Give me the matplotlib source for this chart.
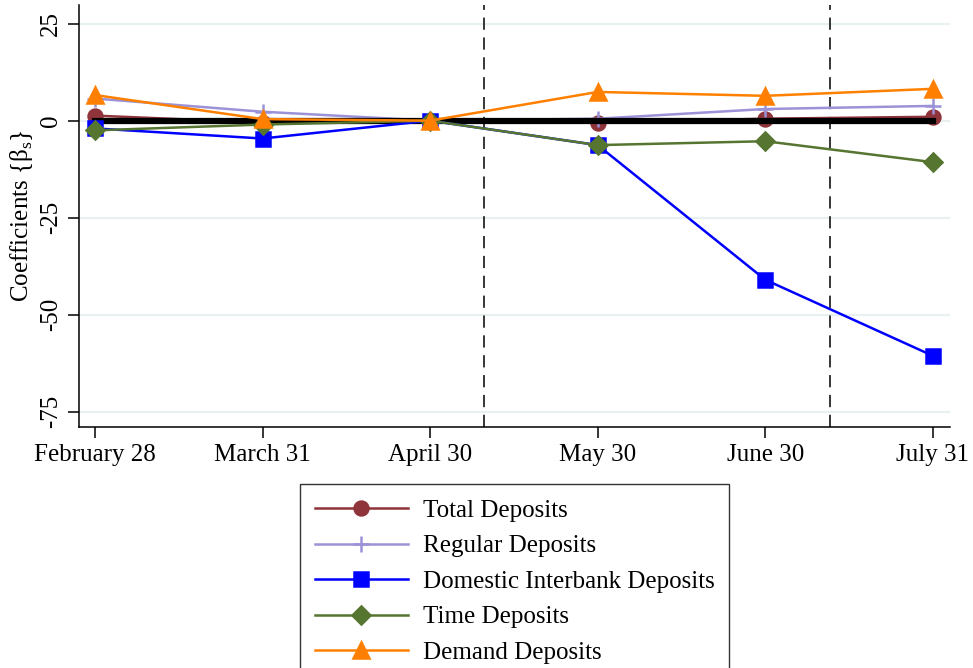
import matplotlib.pyplot as plt
import numpy as np

# data
months = ["February 28", "March 31", "April 30", "May 30", "June 30", "July 31"]
total_deposits = [1.3, -0.5, 0.0, -0.5, 0.5, 1.0]
regular_deposits = [5.7, 2.3, 0.0, 0.5, 3.0, 3.8]
interbank_deposits = [-2.0, -4.6, 0.0, -6.3, -41.0, -60.6]
time_deposits = [-2.5, -1.0, 0.0, -6.3, -5.3, -10.7]
demand_deposits = [6.6, 0.4, 0.0, 7.4, 6.4, 8.2]
event_lines = [2.32, 4.385]
y_ticks = [25, 0, -25, -50, -75]

plt.rcParams["font.family"] = ["Liberation Serif", "DejaVu Serif"]

fig = plt.figure(figsize=(9.73, 6.68), dpi=100)
ax = fig.add_axes([0.0812, 0.361, 0.8948, 0.6315])

x = np.arange(len(months))

for yt in y_ticks:
    ax.axhline(yt, color="#e8f0f2", lw=1.6, zorder=0)

for xv in event_lines:
    ax.axvline(xv, color="black", lw=1.1, ls=(0, (8, 5)), zorder=1)

series = [
    ("Total Deposits", total_deposits, "#8f343b", "o", 10, 2),
    ("Regular Deposits", regular_deposits, "#9b92d8", "+", 11, 2),
    ("Domestic Interbank Deposits", interbank_deposits, "#0000ff", "s", 10, 3),
    ("Time Deposits", time_deposits, "#557530", "D", 9, 3),
    ("Demand Deposits", demand_deposits, "#ff8000", "^", 11, 3),
]
for label, vals, color, marker, ms, z in series:
    ax.plot(x, vals, color=color, marker=marker, markersize=ms, lw=1.8,
            mew=1.8, label=label, zorder=z)

# reference line at zero
ax.plot(x, np.zeros(len(x)), color="black", lw=4.5, zorder=2.5)

ax.set_xlim(-0.095, 5.10)
ax.set_ylim(-78.9, 29.8)
ax.set_xticks(x)
ax.set_xticklabels(months, fontsize=18)
ax.set_yticks(y_ticks)
ax.set_yticklabels([str(v) for v in y_ticks], fontsize=18, rotation=90, va="center")
ax.tick_params(axis="both", direction="out", length=8, width=1.1, pad=4)
ax.set_ylabel("Coefficients {β$_\\mathregular{s}$}", fontsize=18, labelpad=4)

for side in ("top", "right"):
    ax.spines[side].set_visible(False)
for side in ("left", "bottom"):
    ax.spines[side].set_linewidth(1.1)

fig.legend(loc="upper center", bbox_to_anchor=(0.529, 0.275), ncol=1,
           fontsize=18, frameon=True, fancybox=False, edgecolor="black",
           handlelength=3.7, borderpad=0.6, labelspacing=0.52,
           handletextpad=0.6, borderaxespad=0)

fig.savefig("out.png", dpi=100)
